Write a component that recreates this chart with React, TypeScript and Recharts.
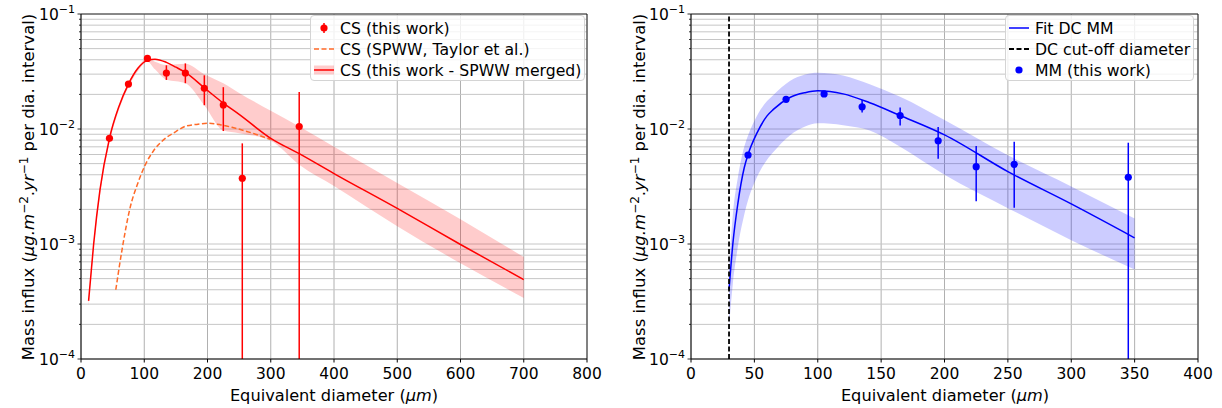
import React from "react";
import {
  Area,
  CartesianGrid,
  ComposedChart,
  ErrorBar,
  Label,
  Line,
  ReferenceLine,
  Scatter,
  XAxis,
  YAxis,
} from "recharts";

const FONT = "'DejaVu Sans', sans-serif";

// log ticks shared by both panels
const yTicks = [
  1e-4, 2e-4, 3e-4, 4e-4, 5e-4, 6e-4, 7e-4, 8e-4, 9e-4,
  1e-3, 2e-3, 3e-3, 4e-3, 5e-3, 6e-3, 7e-3, 8e-3, 9e-3,
  1e-2, 2e-2, 3e-2, 4e-2, 5e-2, 6e-2, 7e-2, 8e-2, 9e-2,
  1e-1,
];
const leftXTicks = [0, 100, 200, 300, 400, 500, 600, 700, 800];
const rightXTicks = [0, 50, 100, 150, 200, 250, 300, 350, 400];

// left panel: CS points (this work); low bound 1e-4 = bar runs off the bottom
const csX = [45, 75, 105, 135, 165, 195, 225, 255, 345];
const csY = [0.0083, 0.0246, 0.0411, 0.0307, 0.0307, 0.0226, 0.0162, 0.00373, 0.0105];
const csLow = [0.0083, 0.0246, 0.0411, 0.0267, 0.025, 0.0161, 0.0096, 1e-4, 1e-4];
const csHigh = [0.0083, 0.0246, 0.0411, 0.0358, 0.0372, 0.0293, 0.0231, 0.0075, 0.021];

// left panel: merged fit + band
const mergedX = [12, 20, 30, 45, 60, 75, 90, 105, 117, 135, 150, 165, 195, 225, 250, 300, 345, 400, 500, 600, 700];
const mergedFit = [3.2e-4, 1.0e-3, 2.95e-3, 8.3e-3, 0.0157, 0.0246, 0.0337, 0.0395, 0.0405, 0.038, 0.0345, 0.031, 0.0228, 0.0168, 0.0134, 0.0083, 0.0061, 0.0041, 0.00204, 0.00099, 0.00049];
const mergedLo = [2.9e-4, 0.9e-3, 2.65e-3, 7.6e-3, 0.0146, 0.0232, 0.032, 0.0385, 0.033, 0.0268, 0.026, 0.025, 0.0161, 0.0097, 0.0092, 0.0079, 0.0049, 0.0032, 0.00143, 0.00068, 0.00034];
const mergedHi = [3.3e-4, 1.05e-3, 3.05e-3, 8.6e-3, 0.0162, 0.0254, 0.0347, 0.041, 0.0385, 0.036, 0.0365, 0.037, 0.03, 0.025, 0.0206, 0.0144, 0.0105, 0.007, 0.0034, 0.00164, 0.00077];

// left panel: SPWW (Taylor et al.)
const spwwX = [55, 65, 77, 90, 101, 115, 130, 150, 166, 185, 201, 220, 240, 271, 300];
const spwwY = [4.0e-4, 9.0e-4, 2.0e-3, 3.4e-3, 4.8e-3, 6.5e-3, 8.0e-3, 9.5e-3, 0.0106, 0.011, 0.0112, 0.0109, 0.0103, 0.0092, 0.0081];

// right panel: MM points
const mmX = [45, 75, 105, 135, 165, 195, 225, 255, 345];
const mmY = [0.00594, 0.0181, 0.0202, 0.0156, 0.0131, 0.0079, 0.0047, 0.00493, 0.0038];
const mmLow = [0.00594, 0.0181, 0.0202, 0.0139, 0.0107, 0.0055, 0.00235, 0.00207, 1e-4];
const mmHigh = [0.00594, 0.0181, 0.0202, 0.0179, 0.0154, 0.0104, 0.0071, 0.00776, 0.0076];

// right panel: DC fit + band
const dcX = [30, 33, 37, 42, 45, 52, 60, 65, 78, 90, 100, 120, 141, 165, 200, 250, 300, 350];
const dcFit = [4.0e-4, 1.0e-3, 2.26e-3, 4.6e-3, 6.0e-3, 9.2e-3, 0.013, 0.0148, 0.0188, 0.0207, 0.0215, 0.0202, 0.0169, 0.0131, 0.0089, 0.00426, 0.00223, 0.00113];
const dcLo = [1.9e-4, 4.5e-4, 9.5e-4, 1.8e-3, 2.4e-3, 3.8e-3, 5.4e-3, 6.3e-3, 8.8e-3, 0.0105, 0.0112, 0.0108, 0.0097, 0.007, 0.004, 0.00205, 0.00108, 6.0e-4];
const dcHi = [6.0e-4, 1.8e-3, 3.8e-3, 7.0e-3, 8.8e-3, 0.013, 0.0175, 0.0198, 0.0262, 0.0298, 0.0309, 0.0292, 0.0245, 0.0191, 0.012, 0.0059, 0.00317, 0.00167];
const dcCutoff = 30;

const toPoints = (xs: number[], ys: number[], lo: number[], hi: number[]) =>
  xs.map((x, i) => ({ x, y: ys[i], err: [ys[i] - lo[i], hi[i] - ys[i]] }));

const toBand = (xs: number[], fit: number[], lo: number[], hi: number[]) =>
  xs.map((x, i) => ({ x, fit: fit[i], band: [lo[i], hi[i]] }));

const csPoints = toPoints(csX, csY, csLow, csHigh);
const mmPoints = toPoints(mmX, mmY, mmLow, mmHigh);
const mergedData = toBand(mergedX, mergedFit, mergedLo, mergedHi);
const dcData = toBand(dcX, dcFit, dcLo, dcHi);
const spwwData = spwwX.map((x, i) => ({ x, y: spwwY[i] }));

function LogTick(props: any) {
  const { x, y, payload } = props;
  const e = Math.log10(payload.value);
  const major = Math.abs(e - Math.round(e)) < 1e-6;
  return (
    <g>
      <line x1={x - (major ? 3.5 : 2)} x2={x} y1={y} y2={y} stroke="#000" strokeWidth={0.8} />
      {major && (
        <text x={x - 6} y={y} dy={5.5} textAnchor="end" fontSize={15.5} fontFamily={FONT} fill="#000">
          10
          <tspan dy={-7} fontSize={11}>{"\u2212" + Math.abs(Math.round(e))}</tspan>
        </text>
      )}
    </g>
  );
}

const YTitle = () => (
  <text transform="translate(34,187) rotate(-90)" textAnchor="middle" fontSize={16.5} fontFamily={FONT} fill="#000">
    Mass influx (<tspan fontStyle="italic">μg.m</tspan>
    <tspan dy={-6.5} fontSize={12}>−2</tspan>
    <tspan dy={6.5}>.</tspan>
    <tspan fontStyle="italic">yr</tspan>
    <tspan dy={-6.5} fontSize={12}>−1</tspan>
    <tspan dy={6.5}> per dia. interval)</tspan>
  </text>
);

const XTitle = () => (
  <text x={334} y={401} textAnchor="middle" fontSize={16.2} fontFamily={FONT} fill="#000">
    Equivalent diameter (<tspan fontStyle="italic">μm</tspan>)
  </text>
);

const dot = (color: string) => (p: any) => <circle cx={p.cx} cy={p.cy} r={3.6} fill={color} />;

function Panel({
  left,
  yWidth,
  xMax,
  xTicks,
  children,
}: {
  left: number;
  yWidth: number;
  xMax: number;
  xTicks: number[];
  children: React.ReactNode;
}) {
  return (
    <div style={{ position: "absolute", left, top: 0 }}>
      <ComposedChart width={611} height={408} margin={{ top: 14, right: 24, left: 0, bottom: 0 }}>
        <CartesianGrid horizontal={false} stroke="#b0b0b0" strokeWidth={1} />
        <CartesianGrid vertical={false} stroke="#c6c6c6" strokeWidth={1} />
        <XAxis
          dataKey="x"
          type="number"
          domain={[0, xMax]}
          ticks={xTicks}
          allowDataOverflow
          height={49}
          tickSize={3.5}
          tickMargin={5}
          stroke="#000"
          tick={{ fontSize: 15.5, fill: "#000", fontFamily: FONT }}
        >
          <Label content={<XTitle />} />
        </XAxis>
        <YAxis
          type="number"
          scale="log"
          domain={[1e-4, 1e-1]}
          ticks={yTicks}
          allowDataOverflow
          width={yWidth}
          tickSize={0}
          tickMargin={0}
          tickLine={false}
          stroke="#000"
          tick={<LogTick />}
          interval={0}
        >
          <Label content={<YTitle />} />
        </YAxis>
        {children}
        <ReferenceLine y={1e-1} stroke="#000" strokeWidth={0.8} />
        <ReferenceLine x={xMax} stroke="#000" strokeWidth={0.8} />
      </ComposedChart>
    </div>
  );
}

const legendBox = (left: number, width: number): React.CSSProperties => ({
  position: "absolute",
  left,
  top: 15,
  width,
  height: 66,
  boxSizing: "border-box",
  border: "1px solid #d4d4d4",
  borderRadius: 4,
  background: "rgba(255,255,255,0.8)",
  fontFamily: FONT,
  fontSize: 15.7,
  color: "#000",
});

function LegendRow({ top, handle, text }: { top: number; handle: React.ReactNode; text: string }) {
  return (
    <div style={{ position: "absolute", left: 0, top: top - 10, height: 20, display: "flex", alignItems: "center", whiteSpace: "nowrap" }}>
      <svg width={22} height={20} style={{ marginLeft: 2, marginRight: 5 }}>
        {handle}
      </svg>
      <span>{text}</span>
    </div>
  );
}

export default function App() {
  return (
    <div style={{ position: "absolute", left: 0, top: 0, width: 1222, height: 408, background: "#fff" }}>
      <Panel left={0} yWidth={81} xMax={800} xTicks={leftXTicks}>
        <Area
          data={mergedData}
          dataKey="band"
          type="monotone"
          stroke="none"
          fill="#ff0000"
          fillOpacity={0.2}
          isAnimationActive={false}
        />
        <Line
          data={spwwData}
          dataKey="y"
          type="monotone"
          stroke="#ff6a28"
          strokeWidth={1.5}
          strokeDasharray="5 2.5"
          dot={false}
          isAnimationActive={false}
        />
        <Line
          data={mergedData}
          dataKey="fit"
          type="monotone"
          stroke="#ff0000"
          strokeWidth={1.5}
          dot={false}
          isAnimationActive={false}
        />
        <Scatter data={csPoints} dataKey="y" shape={dot("#ff0000")} isAnimationActive={false}>
          <ErrorBar dataKey="err" direction="y" width={0} stroke="#ff0000" strokeWidth={1.5} isAnimationActive={false} />
        </Scatter>
      </Panel>

      <Panel left={611} yWidth={80} xMax={400} xTicks={rightXTicks}>
        <Area
          data={dcData}
          dataKey="band"
          type="monotone"
          stroke="none"
          fill="#0000ff"
          fillOpacity={0.2}
          isAnimationActive={false}
        />
        <Line
          data={dcData}
          dataKey="fit"
          type="monotone"
          stroke="#0000ff"
          strokeWidth={1.5}
          dot={false}
          isAnimationActive={false}
        />
        <ReferenceLine x={dcCutoff} stroke="#000" strokeWidth={1.8} strokeDasharray="5 2.5" />
        <Scatter data={mmPoints} dataKey="y" shape={dot("#0000ff")} isAnimationActive={false}>
          <ErrorBar dataKey="err" direction="y" width={0} stroke="#0000ff" strokeWidth={1.5} isAnimationActive={false} />
        </Scatter>
      </Panel>

      <div style={legendBox(310, 275)}>
        <LegendRow
          top={12}
          text="CS (this work)"
          handle={
            <g>
              <line x1={11} x2={11} y1={5} y2={15} stroke="#ff0000" strokeWidth={1.5} />
              <circle cx={11} cy={10} r={3.6} fill="#ff0000" />
            </g>
          }
        />
        <LegendRow
          top={33}
          text="CS (SPWW, Taylor et al.)"
          handle={<line x1={1} x2={21} y1={10} y2={10} stroke="#ff6a28" strokeWidth={1.5} strokeDasharray="5 2.5" />}
        />
        <LegendRow
          top={54}
          text="CS (this work - SPWW merged)"
          handle={
            <g>
              <rect x={1} y={5.5} width={20} height={9} fill="#ff0000" fillOpacity={0.2} />
              <line x1={1} x2={21} y1={10} y2={10} stroke="#ff0000" strokeWidth={1.5} />
            </g>
          }
        />
      </div>

      <div style={legendBox(1005, 189)}>
        <LegendRow
          top={12}
          text="Fit DC MM"
          handle={<line x1={1} x2={21} y1={10} y2={10} stroke="#0000ff" strokeWidth={1.5} />}
        />
        <LegendRow
          top={33}
          text="DC cut-off diameter"
          handle={<line x1={1} x2={21} y1={10} y2={10} stroke="#000" strokeWidth={1.8} strokeDasharray="5 2.5" />}
        />
        <LegendRow
          top={54}
          text="MM (this work)"
          handle={
            <g>
              <line x1={11} x2={11} y1={7} y2={13} stroke="#0000ff" strokeWidth={1.5} />
              <circle cx={11} cy={10} r={3.6} fill="#0000ff" />
            </g>
          }
        />
      </div>
    </div>
  );
}
